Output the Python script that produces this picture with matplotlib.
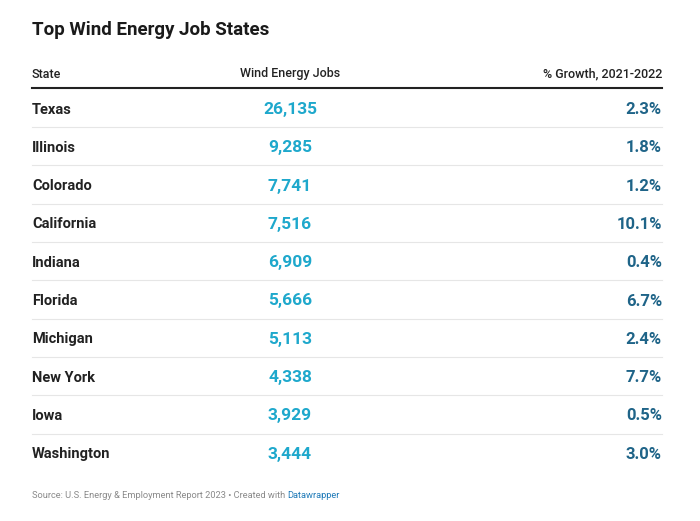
import matplotlib.pyplot as plt
from matplotlib.lines import Line2D

states = ["Texas", "Illinois", "Colorado", "California", "Indiana",
          "Florida", "Michigan", "New York", "Iowa", "Washington"]
jobs = [26135, 9285, 7741, 7516, 6909, 5666, 5113, 4338, 3929, 3444]
growth = [2.3, 1.8, 1.2, 10.1, 0.4, 6.7, 2.4, 7.7, 0.5, 3.0]
headers = ["State", "Wind Energy Jobs", "% Growth, 2021-2022"]

plt.rcParams['font.family'] = ['Roboto', 'DejaVu Sans']

fig = plt.figure(figsize=(7, 5.21), dpi=100)
ax = fig.add_axes([0, 0, 1, 1])
ax.set_xlim(0, 700)
ax.set_ylim(521, 0)
ax.axis('off')

x_left, x_mid, x_right = 32, 290, 662
row0, step = 109.5, 38.3

ax.text(x_left, 30, "Top Wind Energy Job States", fontsize=13.5, fontweight='bold',
        color='#1a1a1a', va='center', ha='left')

ax.text(x_left, 74, headers[0], fontsize=9, fontweight='medium', color='#222222', va='center', ha='left')
ax.text(x_mid, 74, headers[1], fontsize=9, fontweight='medium', color='#222222', va='center', ha='center')
ax.text(x_right, 74, headers[2], fontsize=9, fontweight='medium', color='#222222', va='center', ha='right')
ax.add_line(Line2D([x_left, x_right], [88, 88], color='#222222', lw=1.5))

for i, (s, j, g) in enumerate(zip(states, jobs, growth)):
    y = row0 + i * step
    ax.text(x_left, y, s, fontsize=10.5, fontweight='semibold', color='#222222',
            va='center', ha='left')
    ax.text(x_mid, y, f"{j:,}", fontsize=12.5, fontweight='bold', color='#1ea8cc',
            va='center', ha='center')
    ax.text(x_right, y, f"{g:.1f}%", fontsize=12, fontweight='bold', color='#1f6488',
            va='center', ha='right')
    if i < len(states) - 1:
        yl = row0 - 1.5 + i * step + step / 2
        ax.add_line(Line2D([x_left, x_right], [yl, yl], color='#e6e6e6', lw=0.8))

src = ax.text(x_left, 495, "Source: U.S. Energy & Employment Report 2023 \u2022 Created with",
              fontsize=6.7, color='#8a8a8a', va='center', ha='left')
fig.canvas.draw()
bb = src.get_window_extent(renderer=fig.canvas.get_renderer())
x_end = ax.transData.inverted().transform((bb.x1, 0))[0]
ax.text(x_end + 1.5, 495, "Datawrapper", fontsize=6.7, color='#1f7ab8', va='center', ha='left')

fig.savefig("out.png", dpi=100, facecolor='white')
